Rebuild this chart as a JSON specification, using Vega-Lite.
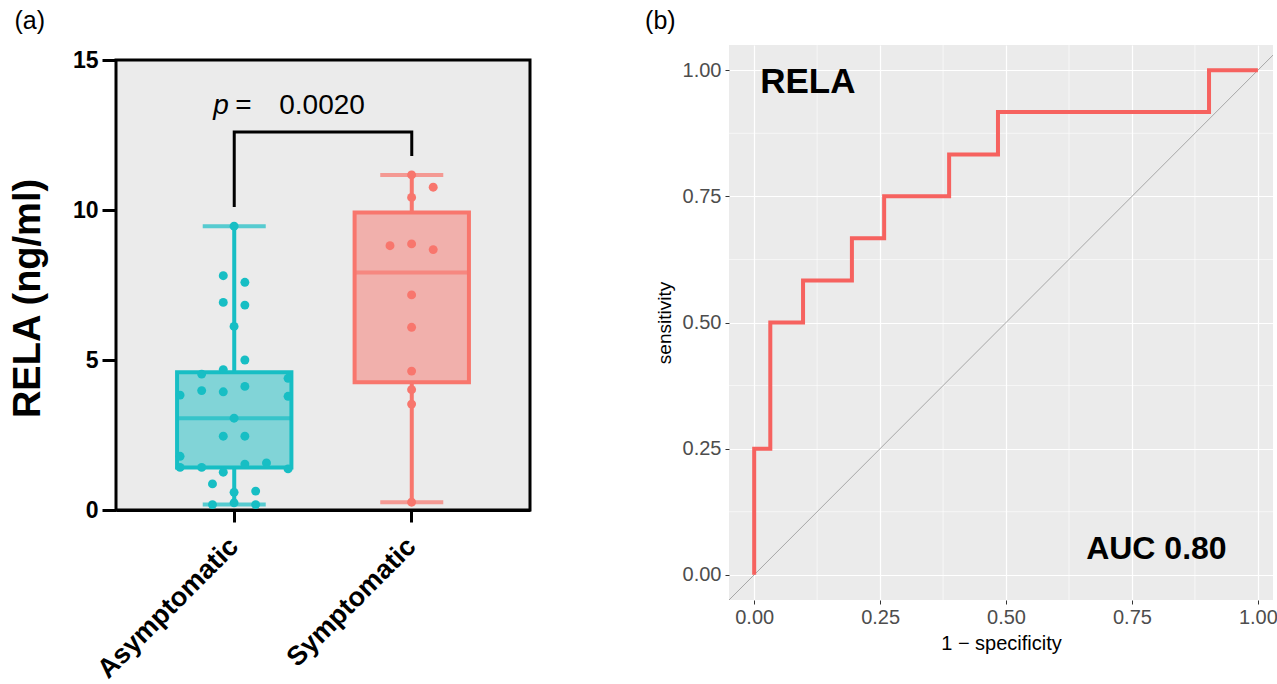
{
  "$schema": "https://vega.github.io/schema/vega-lite/v6.json",
  "background": "white",
  "padding": {"left": 9, "top": 8, "right": 0, "bottom": 0},
  "spacing": 113,
  "config": {
    "font": "Liberation Sans",
    "title": {"font": "Liberation Sans", "fontSize": 25, "fontWeight": "normal", "anchor": "start", "frame": "bounds", "color": "black"}
  },
  "datasets": {
    "points": [
      {"group": "Asymptomatic", "value": 9.46, "col": 0},
      {"group": "Asymptomatic", "value": 7.81, "col": -1},
      {"group": "Asymptomatic", "value": 7.59, "col": 1},
      {"group": "Asymptomatic", "value": 6.92, "col": -1},
      {"group": "Asymptomatic", "value": 6.83, "col": 1},
      {"group": "Asymptomatic", "value": 6.12, "col": 0},
      {"group": "Asymptomatic", "value": 5.0, "col": 1},
      {"group": "Asymptomatic", "value": 4.68, "col": -1},
      {"group": "Asymptomatic", "value": 4.53, "col": -3},
      {"group": "Asymptomatic", "value": 4.39, "col": 5},
      {"group": "Asymptomatic", "value": 4.12, "col": 1},
      {"group": "Asymptomatic", "value": 3.98, "col": -3},
      {"group": "Asymptomatic", "value": 3.94, "col": -1},
      {"group": "Asymptomatic", "value": 3.83, "col": -5},
      {"group": "Asymptomatic", "value": 3.79, "col": 5},
      {"group": "Asymptomatic", "value": 3.06, "col": 0},
      {"group": "Asymptomatic", "value": 2.46, "col": -1},
      {"group": "Asymptomatic", "value": 2.46, "col": 1},
      {"group": "Asymptomatic", "value": 1.79, "col": -5},
      {"group": "Asymptomatic", "value": 1.57, "col": 3},
      {"group": "Asymptomatic", "value": 1.53, "col": 1},
      {"group": "Asymptomatic", "value": 1.42, "col": -5},
      {"group": "Asymptomatic", "value": 1.42, "col": -3},
      {"group": "Asymptomatic", "value": 1.37, "col": 5},
      {"group": "Asymptomatic", "value": 1.26, "col": -1},
      {"group": "Asymptomatic", "value": 0.87, "col": -2},
      {"group": "Asymptomatic", "value": 0.63, "col": 2},
      {"group": "Asymptomatic", "value": 0.59, "col": 0},
      {"group": "Asymptomatic", "value": 0.24, "col": 0},
      {"group": "Asymptomatic", "value": 0.18, "col": -2},
      {"group": "Asymptomatic", "value": 0.18, "col": 2},
      {"group": "Symptomatic", "value": 11.17, "col": 0},
      {"group": "Symptomatic", "value": 10.76, "col": 2},
      {"group": "Symptomatic", "value": 10.42, "col": 0},
      {"group": "Symptomatic", "value": 8.87, "col": 0},
      {"group": "Symptomatic", "value": 8.81, "col": -2},
      {"group": "Symptomatic", "value": 8.68, "col": 2},
      {"group": "Symptomatic", "value": 7.17, "col": 0},
      {"group": "Symptomatic", "value": 6.09, "col": 0},
      {"group": "Symptomatic", "value": 4.63, "col": 0},
      {"group": "Symptomatic", "value": 4.01, "col": 0},
      {"group": "Symptomatic", "value": 3.53, "col": 0},
      {"group": "Symptomatic", "value": 0.26, "col": 0}
    ],
    "summary": [
      {"group": "Asymptomatic", "min": 0.18, "q1": 1.42, "median": 3.06, "q3": 4.59, "max": 9.46},
      {"group": "Symptomatic", "min": 0.26, "q1": 4.26, "median": 7.92, "q3": 9.92, "max": 11.17}
    ],
    "bracket": [
      {"group": "Asymptomatic", "y": 10.1, "o": 1},
      {"group": "Asymptomatic", "y": 12.6, "o": 2},
      {"group": "Symptomatic", "y": 12.6, "o": 3},
      {"group": "Symptomatic", "y": 11.8, "o": 4}
    ],
    "roc": [
      {"fpr": 0.0, "tpr": 0.0, "o": 1},
      {"fpr": 0.0, "tpr": 0.25, "o": 2},
      {"fpr": 0.032, "tpr": 0.25, "o": 3},
      {"fpr": 0.032, "tpr": 0.5, "o": 4},
      {"fpr": 0.097, "tpr": 0.5, "o": 5},
      {"fpr": 0.097, "tpr": 0.583, "o": 6},
      {"fpr": 0.194, "tpr": 0.583, "o": 7},
      {"fpr": 0.194, "tpr": 0.667, "o": 8},
      {"fpr": 0.258, "tpr": 0.667, "o": 9},
      {"fpr": 0.258, "tpr": 0.75, "o": 10},
      {"fpr": 0.387, "tpr": 0.75, "o": 11},
      {"fpr": 0.387, "tpr": 0.833, "o": 12},
      {"fpr": 0.484, "tpr": 0.833, "o": 13},
      {"fpr": 0.484, "tpr": 0.917, "o": 14},
      {"fpr": 0.903, "tpr": 0.917, "o": 15},
      {"fpr": 0.903, "tpr": 1.0, "o": 16},
      {"fpr": 1.0, "tpr": 1.0, "o": 17}
    ],
    "diag": [{"d": -0.05}, {"d": 1.05}],
    "minor": [{"m": 0.125}, {"m": 0.375}, {"m": 0.625}, {"m": 0.875}]
  },
  "hconcat": [
    {
      "width": 414,
      "height": 465,
      "title": {"text": "(a)", "offset": 11, "dx": 5},
      "view": {"fill": null, "stroke": null},
      "resolve": {"scale": {"xOffset": "independent"}},
      "layer": [
        {
          "data": {"values": [{"lo": 0, "hi": 15}]},
          "mark": {"type": "rect", "fill": "#EBEBEB", "stroke": "black", "strokeWidth": 3},
          "encoding": {
            "y": {
              "field": "lo", "type": "quantitative",
              "scale": {"domain": [0, 15], "range": [465, 15], "nice": false, "zero": false},
              "axis": {
                "values": [0, 5, 10, 15], "title": "RELA (ng/ml)", "grid": false,
                "domainColor": "black", "domainWidth": 3,
                "tickColor": "black", "tickWidth": 3, "tickSize": 14,
                "labelFontSize": 23, "labelFontWeight": "bold", "labelColor": "black", "labelPadding": 4,
                "labelOverlap": false,
                "titleFontSize": 38, "titleFontWeight": "bold", "titleColor": "black", "titlePadding": 25,
                "titleY": 253
              }
            },
            "y2": {"field": "hi"}
          }
        },
        {
          "data": {"name": "summary"},
          "mark": {"type": "rule", "strokeWidth": 4},
          "encoding": {
            "x": {
              "field": "group", "type": "nominal",
              "scale": {"domain": ["Asymptomatic", "Symptomatic"], "paddingInner": 0.356, "paddingOuter": 0.344},
              "axis": {
                "title": null, "domainColor": "black", "domainWidth": 3,
                "tickColor": "black", "tickWidth": 3, "tickSize": 12,
                "labelAngle": -45, "labelAlign": "right", "labelBaseline": "middle", "labelLimit": 0,
                "labelFontSize": 27, "labelFontWeight": "bold", "labelColor": "black", "labelPadding": 20
              }
            },
            "y": {"field": "min", "type": "quantitative", "title": "RELA (ng/ml)"},
            "y2": {"field": "q1"},
            "color": {"field": "group", "type": "nominal", "scale": {"domain": ["Asymptomatic", "Symptomatic"], "range": ["#17BEC4", "#F8766D"]}, "legend": null}
          }
        },
        {
          "data": {"name": "summary"},
          "mark": {"type": "rule", "strokeWidth": 4},
          "encoding": {
            "x": {"field": "group", "type": "nominal"},
            "y": {"field": "q3", "type": "quantitative", "title": "RELA (ng/ml)"},
            "y2": {"field": "max"},
            "color": {"field": "group", "type": "nominal", "legend": null}
          }
        },
        {
          "data": {"name": "summary"},
          "mark": {"type": "tick", "thickness": 4, "size": 63},
          "encoding": {
            "x": {"field": "group", "type": "nominal"},
            "y": {"field": "min", "type": "quantitative", "title": "RELA (ng/ml)"},
            "color": {"field": "group", "type": "nominal", "legend": null}
          }
        },
        {
          "data": {"name": "summary"},
          "mark": {"type": "tick", "thickness": 4, "size": 63},
          "encoding": {
            "x": {"field": "group", "type": "nominal"},
            "y": {"field": "max", "type": "quantitative", "title": "RELA (ng/ml)"},
            "color": {"field": "group", "type": "nominal", "legend": null}
          }
        },
        {
          "data": {"name": "summary"},
          "mark": {"type": "bar", "fillOpacity": 0.5, "strokeWidth": 4},
          "encoding": {
            "x": {"field": "group", "type": "nominal"},
            "y": {"field": "q1", "type": "quantitative", "title": "RELA (ng/ml)"},
            "y2": {"field": "q3"},
            "color": {"field": "group", "type": "nominal", "legend": null},
            "stroke": {"field": "group", "type": "nominal", "scale": {"domain": ["Asymptomatic", "Symptomatic"], "range": ["#17BEC4", "#F8766D"]}, "legend": null}
          }
        },
        {
          "data": {"name": "summary"},
          "mark": {"type": "tick", "thickness": 4, "size": 114},
          "encoding": {
            "x": {"field": "group", "type": "nominal"},
            "y": {"field": "median", "type": "quantitative", "title": "RELA (ng/ml)"},
            "color": {"field": "group", "type": "nominal", "legend": null}
          }
        },
        {
          "data": {"name": "points"},
          "mark": {"type": "point", "filled": true, "size": 80, "opacity": 1},
          "encoding": {
            "x": {"field": "group", "type": "nominal"},
            "xOffset": {"field": "col", "type": "quantitative", "scale": {"domain": [-5, 5], "range": [3, 111]}},
            "y": {"field": "value", "type": "quantitative", "title": "RELA (ng/ml)"},
            "color": {"field": "group", "type": "nominal", "legend": null}
          }
        },
        {
          "data": {"name": "bracket"},
          "mark": {"type": "line", "color": "black", "strokeWidth": 3},
          "encoding": {
            "x": {"field": "group", "type": "nominal"},
            "y": {"field": "y", "type": "quantitative", "title": "RELA (ng/ml)"},
            "order": {"field": "o", "type": "quantitative"}
          }
        },
        {
          "data": {"values": [{"group": "Asymptomatic", "y": 13.2, "t": "p"}]},
          "mark": {"type": "text", "align": "left", "baseline": "alphabetic", "fontSize": 28, "fontStyle": "italic", "dx": -21, "color": "black"},
          "encoding": {
            "x": {"field": "group", "type": "nominal"},
            "y": {"field": "y", "type": "quantitative", "title": "RELA (ng/ml)"},
            "text": {"field": "t"}
          }
        },
        {
          "data": {"values": [{"group": "Asymptomatic", "y": 13.2, "t": "="}]},
          "mark": {"type": "text", "align": "left", "baseline": "alphabetic", "fontSize": 28, "dx": 1, "color": "black"},
          "encoding": {
            "x": {"field": "group", "type": "nominal"},
            "y": {"field": "y", "type": "quantitative", "title": "RELA (ng/ml)"},
            "text": {"field": "t"}
          }
        },
        {
          "data": {"values": [{"group": "Asymptomatic", "y": 13.2, "t": "0.0020"}]},
          "mark": {"type": "text", "align": "left", "baseline": "alphabetic", "fontSize": 28, "dx": 45, "color": "black"},
          "encoding": {
            "x": {"field": "group", "type": "nominal"},
            "y": {"field": "y", "type": "quantitative", "title": "RELA (ng/ml)"},
            "text": {"field": "t"}
          }
        }
      ]
    },
    {
      "width": 544,
      "height": 555,
      "title": {"text": "(b)", "offset": 11, "dx": -10},
      "view": {"fill": "#EBEBEB", "stroke": null},
      "layer": [
        {
          "data": {"name": "minor"},
          "mark": {"type": "rule", "color": "white", "strokeWidth": 0.6},
          "encoding": {
            "x": {
              "field": "m", "type": "quantitative",
              "scale": {"domain": [-0.05, 1.03], "nice": false, "zero": false},
              "axis": {
                "values": [0, 0.25, 0.5, 0.75, 1], "format": ".2f", "title": "1 − specificity",
                "domain": false, "grid": true, "gridColor": "white", "gridWidth": 1.2,
                "tickColor": "#333333", "tickSize": 4, "tickWidth": 1,
                "labelFontSize": 20, "labelColor": "#4D4D4D", "labelPadding": 3, "labelFlush": false, "labelOverlap": false,
                "titleFontSize": 20, "titleFontWeight": "normal", "titleColor": "black", "titlePadding": 6
              }
            }
          }
        },
        {
          "data": {"name": "minor"},
          "mark": {"type": "rule", "color": "white", "strokeWidth": 0.6},
          "encoding": {
            "y": {
              "field": "m", "type": "quantitative",
              "scale": {"domain": [-0.05, 1.05], "nice": false, "zero": false},
              "axis": {
                "values": [0, 0.25, 0.5, 0.75, 1], "format": ".2f", "title": "sensitivity",
                "domain": false, "grid": true, "gridColor": "white", "gridWidth": 1.2,
                "tickColor": "#333333", "tickSize": 4, "tickWidth": 1,
                "labelFontSize": 20, "labelColor": "#4D4D4D", "labelPadding": 4, "labelFlush": false, "labelOverlap": false,
                "titleFontSize": 19, "titleFontWeight": "normal", "titleColor": "black", "titlePadding": 8
              }
            }
          }
        },
        {
          "data": {"name": "diag"},
          "mark": {"type": "line", "color": "#A6A6A6", "strokeWidth": 1, "clip": true},
          "encoding": {
            "x": {"field": "d", "type": "quantitative", "title": "1 − specificity"},
            "y": {"field": "d", "type": "quantitative", "title": "sensitivity"}
          }
        },
        {
          "data": {"name": "roc"},
          "mark": {"type": "line", "color": "#F6625F", "strokeWidth": 4},
          "encoding": {
            "x": {"field": "fpr", "type": "quantitative", "title": "1 − specificity"},
            "y": {"field": "tpr", "type": "quantitative", "title": "sensitivity"},
            "order": {"field": "o", "type": "quantitative"}
          }
        },
        {
          "data": {"values": [{"x": 0.012, "y": 0.954, "t": "RELA"}]},
          "mark": {"type": "text", "align": "left", "baseline": "alphabetic", "fontSize": 35, "fontWeight": "bold", "color": "black"},
          "encoding": {
            "x": {"field": "x", "type": "quantitative", "title": "1 − specificity"},
            "y": {"field": "y", "type": "quantitative", "title": "sensitivity"},
            "text": {"field": "t"}
          }
        },
        {
          "data": {"values": [{"x": 0.659, "y": 0.032, "t": "AUC 0.80"}]},
          "mark": {"type": "text", "align": "left", "baseline": "alphabetic", "fontSize": 32, "fontWeight": "bold", "color": "black"},
          "encoding": {
            "x": {"field": "x", "type": "quantitative", "title": "1 − specificity"},
            "y": {"field": "y", "type": "quantitative", "title": "sensitivity"},
            "text": {"field": "t"}
          }
        }
      ]
    }
  ]
}
